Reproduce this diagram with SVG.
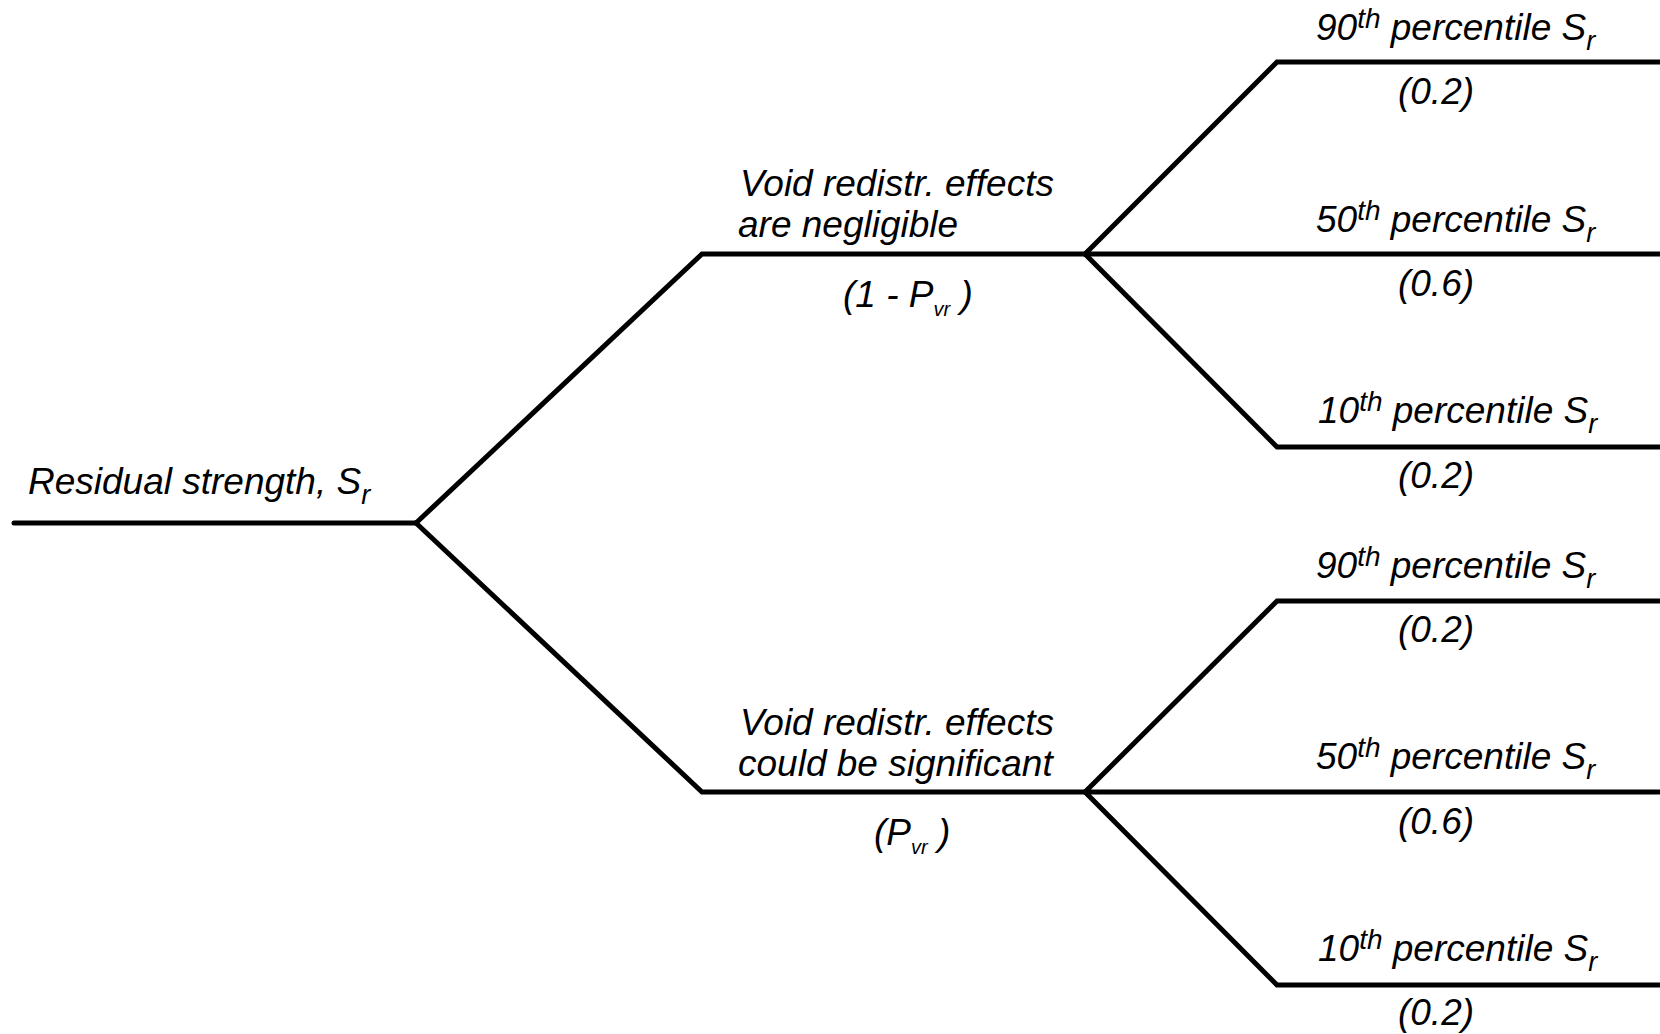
<svg xmlns="http://www.w3.org/2000/svg" width="1660" height="1034" viewBox="0 0 1660 1034">
  <style>
    .edge { fill: none; stroke: #000; stroke-width: 5; stroke-linecap: round; stroke-linejoin: miter; }
    text { font-family: "Liberation Sans", Arial, sans-serif; font-style: italic; font-size: 37px; fill: #000; }
    .sub { font-size: 27px; }
    .sup { font-size: 28px; }
    .tiny { font-size: 20px; }
    .mid { text-anchor: middle; }
  </style>
  <rect width="1660" height="1034" fill="#fff"/>

  <!-- branches of the event tree -->
  <g id="connectors">
    <path class="edge" d="M14 523 H416"/>
    <path class="edge" d="M416 523 L702 254 H1085"/>
    <path class="edge" d="M416 523 L702 792 H1085"/>
    <path class="edge" d="M1085 254 L1277 62 H1662"/>
    <path class="edge" d="M1085 254 H1662"/>
    <path class="edge" d="M1085 254 L1277 447 H1662"/>
    <path class="edge" d="M1085 792 L1277 601 H1662"/>
    <path class="edge" d="M1085 792 H1662"/>
    <path class="edge" d="M1085 792 L1277 985 H1662"/>
  </g>

  <g id="root">
    <text x="28" y="494">Residual strength, S<tspan class="sub" dy="10">r</tspan></text>
  </g>

  <g id="negligible">
    <text x="740" y="196">Void redistr. effects</text>
    <text x="738" y="237">are negligible</text>
    <text x="843" y="307">(1 - P<tspan class="tiny" dy="9">vr</tspan><tspan dy="-9"> )</tspan></text>
  </g>

  <g id="significant">
    <text x="740" y="735">Void redistr. effects</text>
    <text x="738" y="776">could be significant</text>
    <text x="874" y="845">(P<tspan class="tiny" dy="9">vr</tspan><tspan dy="-9"> )</tspan></text>
  </g>

  <g id="upper-p90">
    <text x="1316" y="40">90<tspan class="sup" dy="-12">th</tspan><tspan dy="12"> percentile S</tspan><tspan class="sub" dy="10">r</tspan></text>
    <text class="mid" x="1436" y="104">(0.2)</text>
  </g>
  <g id="upper-p50">
    <text x="1316" y="232">50<tspan class="sup" dy="-12">th</tspan><tspan dy="12"> percentile S</tspan><tspan class="sub" dy="10">r</tspan></text>
    <text class="mid" x="1436" y="296">(0.6)</text>
  </g>
  <g id="upper-p10">
    <text x="1318" y="423">10<tspan class="sup" dy="-12">th</tspan><tspan dy="12"> percentile S</tspan><tspan class="sub" dy="10">r</tspan></text>
    <text class="mid" x="1436" y="488">(0.2)</text>
  </g>

  <g id="lower-p90">
    <text x="1316" y="578">90<tspan class="sup" dy="-12">th</tspan><tspan dy="12"> percentile S</tspan><tspan class="sub" dy="10">r</tspan></text>
    <text class="mid" x="1436" y="642">(0.2)</text>
  </g>
  <g id="lower-p50">
    <text x="1316" y="769">50<tspan class="sup" dy="-12">th</tspan><tspan dy="12"> percentile S</tspan><tspan class="sub" dy="10">r</tspan></text>
    <text class="mid" x="1436" y="834">(0.6)</text>
  </g>
  <g id="lower-p10">
    <text x="1318" y="961">10<tspan class="sup" dy="-12">th</tspan><tspan dy="12"> percentile S</tspan><tspan class="sub" dy="10">r</tspan></text>
    <text class="mid" x="1436" y="1025">(0.2)</text>
  </g>
</svg>
